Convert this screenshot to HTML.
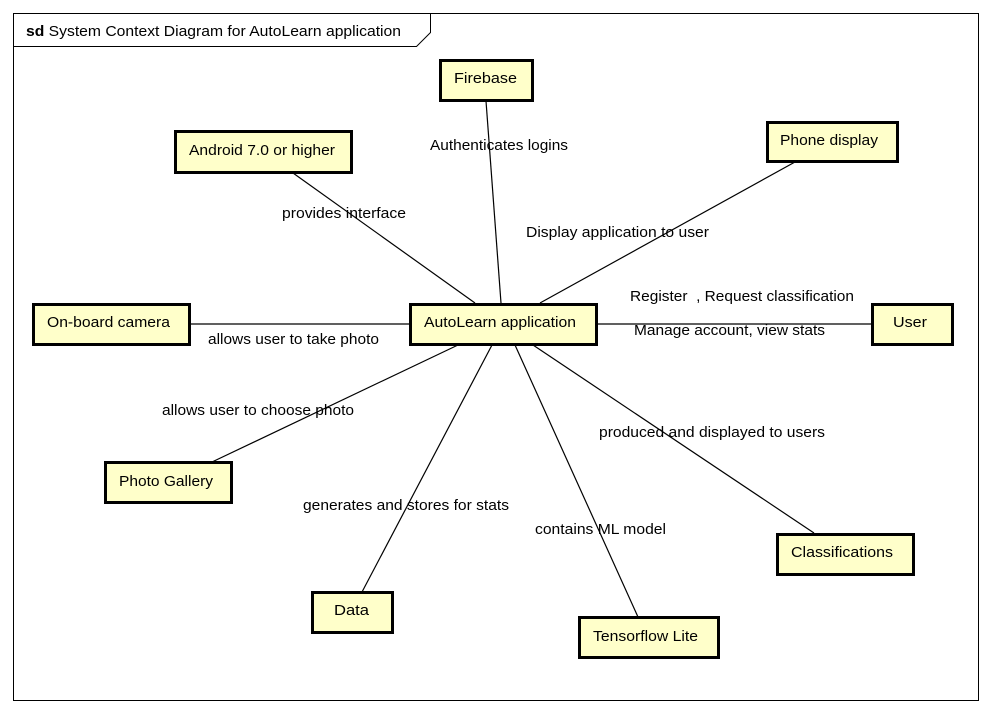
<!DOCTYPE html>
<html><head><meta charset="utf-8"><style>
html,body{margin:0;padding:0;background:#fff;}
svg{display:block;}
text{font-family:"Liberation Sans",Arial,sans-serif;font-size:15px;fill:#000;}
.b{fill:#FFFFCA;stroke:#000;stroke-width:3;}
.l{stroke:#000;stroke-width:1.2;fill:none;}
</style></head><body>
<svg width="992" height="714" xmlns="http://www.w3.org/2000/svg">
<rect x="0" y="0" width="992" height="714" fill="#fff"/>
<rect x="13.5" y="13.5" width="965" height="687" fill="none" stroke="#000" stroke-width="1"/>
<path d="M13.5 46.5 H416.5 L430.5 32.5 V13.5" fill="none" stroke="#000" stroke-width="1"/>
<text x="26" y="36" textLength="375" lengthAdjust="spacingAndGlyphs"><tspan font-weight="bold">sd</tspan> System Context Diagram for AutoLearn application</text>

<line class="l" x1="486" y1="101" x2="501" y2="303"/>
<line class="l" x1="293" y1="173" x2="475" y2="303"/>
<line class="l" x1="795" y1="162" x2="540" y2="303"/>
<line class="l" x1="190" y1="324" x2="409" y2="324"/>
<line class="l" x1="597" y1="324" x2="871" y2="324"/>
<line class="l" x1="212" y1="462" x2="458" y2="345"/>
<line class="l" x1="362" y1="592" x2="492" y2="345"/>
<line class="l" x1="638" y1="617" x2="515" y2="345"/>
<line class="l" x1="814" y1="533" x2="533" y2="345"/>

<rect class="b" x="440.5" y="60.5" width="92" height="40"/><text x="454" y="83" textLength="63" lengthAdjust="spacingAndGlyphs">Firebase</text>
<rect class="b" x="175.5" y="131.5" width="176" height="41"/><text x="189" y="155" textLength="146" lengthAdjust="spacingAndGlyphs">Android 7.0 or higher</text>
<rect class="b" x="767.5" y="122.5" width="130" height="39"/><text x="780" y="145" textLength="98" lengthAdjust="spacingAndGlyphs">Phone display</text>
<rect class="b" x="33.5" y="304.5" width="156" height="40"/><text x="47" y="327" textLength="123" lengthAdjust="spacingAndGlyphs">On-board camera</text>
<rect class="b" x="410.5" y="304.5" width="186" height="40"/><text x="424" y="327" textLength="152" lengthAdjust="spacingAndGlyphs">AutoLearn application</text>
<rect class="b" x="872.5" y="304.5" width="80" height="40"/><text x="893" y="327" textLength="34" lengthAdjust="spacingAndGlyphs">User</text>
<rect class="b" x="105.5" y="462.5" width="126" height="40"/><text x="119" y="486" textLength="94" lengthAdjust="spacingAndGlyphs">Photo Gallery</text>
<rect class="b" x="312.5" y="592.5" width="80" height="40"/><text x="334" y="615" textLength="35" lengthAdjust="spacingAndGlyphs">Data</text>
<rect class="b" x="579.5" y="617.5" width="139" height="40"/><text x="593" y="641" textLength="105" lengthAdjust="spacingAndGlyphs">Tensorflow Lite</text>
<rect class="b" x="777.5" y="534.5" width="136" height="40"/><text x="791" y="557" textLength="102" lengthAdjust="spacingAndGlyphs">Classifications</text>

<text x="430" y="150" textLength="138" lengthAdjust="spacingAndGlyphs">Authenticates logins</text>
<text x="282" y="218" textLength="124" lengthAdjust="spacingAndGlyphs">provides interface</text>
<text x="526" y="237" textLength="183" lengthAdjust="spacingAndGlyphs">Display application to user</text>
<text x="630" y="301" textLength="224" lengthAdjust="spacingAndGlyphs">Register&#160;&#160;, Request classification</text>
<text x="634" y="335" textLength="191" lengthAdjust="spacingAndGlyphs">Manage account, view stats</text>
<text x="208" y="344" textLength="171" lengthAdjust="spacingAndGlyphs">allows user to take photo</text>
<text x="162" y="415" textLength="192" lengthAdjust="spacingAndGlyphs">allows user to choose photo</text>
<text x="599" y="437" textLength="226" lengthAdjust="spacingAndGlyphs">produced and displayed to users</text>
<text x="303" y="510" textLength="206" lengthAdjust="spacingAndGlyphs">generates and stores for stats</text>
<text x="535" y="534" textLength="131" lengthAdjust="spacingAndGlyphs">contains ML model</text>
</svg>
</body></html>
